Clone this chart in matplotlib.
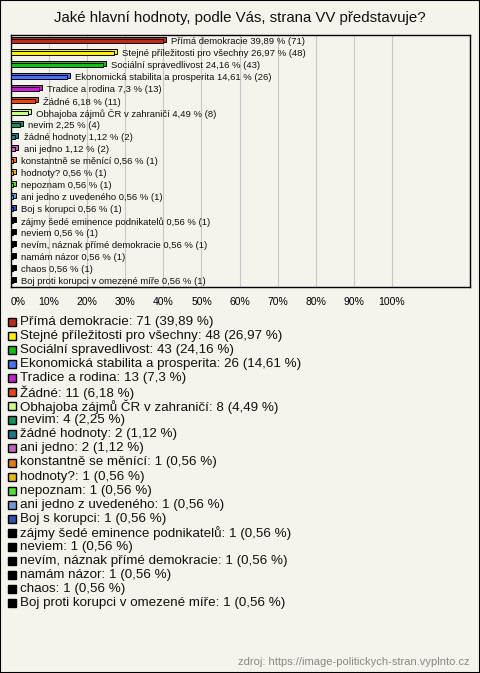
import matplotlib
matplotlib.use("Agg")
import matplotlib.pyplot as plt
from matplotlib.patches import Rectangle

plt.rcParams['font.family'] = ['Liberation Sans', 'DejaVu Sans']

names = [
    "Přímá demokracie", "Stejné příležitosti pro všechny", "Sociální spravedlivost",
    "Ekonomická stabilita a prosperita", "Tradice a rodina", "Žádné",
    "Obhajoba zájmů ČR v zahraničí", "nevim", "žádné hodnoty", "ani jedno",
    "konstantně se měnící", "hodnoty?", "nepoznam", "ani jedno z uvedeného",
    "Boj s korupci", "zájmy šedé eminence podnikatelů", "neviem",
    "nevím, náznak přímé demokracie", "namám názor", "chaos",
    "Boj proti korupci v omezené míře",
]
counts = [71, 48, 43, 26, 13, 11, 8, 4, 2, 2, 1, 1, 1, 1, 1, 1, 1, 1, 1, 1, 1]
percents = [39.89, 26.97, 24.16, 14.61, 7.3, 6.18, 4.49, 2.25, 1.12, 1.12,
            0.56, 0.56, 0.56, 0.56, 0.56, 0.56, 0.56, 0.56, 0.56, 0.56, 0.56]
colors = ["#c0281a", "#ffee00", "#12c012", "#4a72f8", "#c81ed2", "#e8440e",
          "#c8ff80", "#159060", "#1a7a8c", "#c060c0", "#e87a0a", "#e8b810",
          "#50e030", "#7098e0", "#3050b8", "#000000", "#000000", "#000000",
          "#000000", "#000000", "#000000"]
ticks = [0, 10, 20, 30, 40, 50, 60, 70, 80, 90, 100]

bg = "#f4f3ec"
W, H = 480, 673


def pct(p):
    return f"{p:g}".replace(".", ",")


fig = plt.figure(figsize=(W / 100, H / 100), dpi=100, facecolor=bg)
fig.patches.append(Rectangle((0, 0), 1, 1, transform=fig.transFigure,
                             fill=False, edgecolor="black", linewidth=1.5))

fig.text(240 / W, 1 - 18 / H, "Jaké hlavní hodnoty, podle Vás, strana VV představuje?",
         ha="center", va="center", fontsize=10.8, color="#111111")

ax = fig.add_axes([11 / W, 1 - 287 / H, 459 / W, 252 / H])
ax.set_facecolor(bg)
ypos = list(range(len(names)))
ax.set_xlim(0, 120.5)
ax.set_ylim(len(names) - 0.5, -0.5)

for t in ticks[1:]:
    ax.axvline(t, color="#c8c8c8", linewidth=0.8, zorder=1)

# back face (3d depth)
ax.barh([y - 0.14 for y in ypos], [p + 0.8 for p in percents], height=0.4,
        color=colors, edgecolor="black", linewidth=0.7, zorder=2)
ax.barh(ypos, percents, height=0.4, color=colors, edgecolor="black",
        linewidth=0.7, zorder=3)

for y, n, c, p in zip(ypos, names, counts, percents):
    ax.annotate(f"{n} {pct(p)} % ({c})", (p, y), xytext=(6, -0.5),
                textcoords="offset points", va="center", ha="left",
                fontsize=6.8, color="#111111", zorder=4)

ax.set_yticks([])
ax.set_xticks(ticks)
ax.set_xticklabels([f"{t}%" for t in ticks], fontsize=7.5)
ax.get_xticklabels()[0].set_horizontalalignment("left")
ax.tick_params(axis="x", length=0, pad=7)
for s in ax.spines.values():
    s.set_linewidth(1)

# legend
top = 322
step = 14.05
for i, (n, c, p, col) in enumerate(zip(names, counts, percents, colors)):
    yc = 1 - (top + i * step) / H
    fig.patches.append(Rectangle((8 / W, yc - 4 / H), 8 / W, 8 / H,
                                 transform=fig.transFigure, facecolor=col,
                                 edgecolor="black", linewidth=1))
    fig.text(20 / W, yc, f"{n}: {c} ({pct(p)} %)", ha="left", va="center",
             fontsize=9.6, color="#111111")

fig.text(470 / W, 1 - 662 / H, "zdroj: https://image-politickych-stran.vyplnto.cz",
         ha="right", va="center", fontsize=8, color="#888888")

fig.savefig("out.png", dpi=100, facecolor=bg)
